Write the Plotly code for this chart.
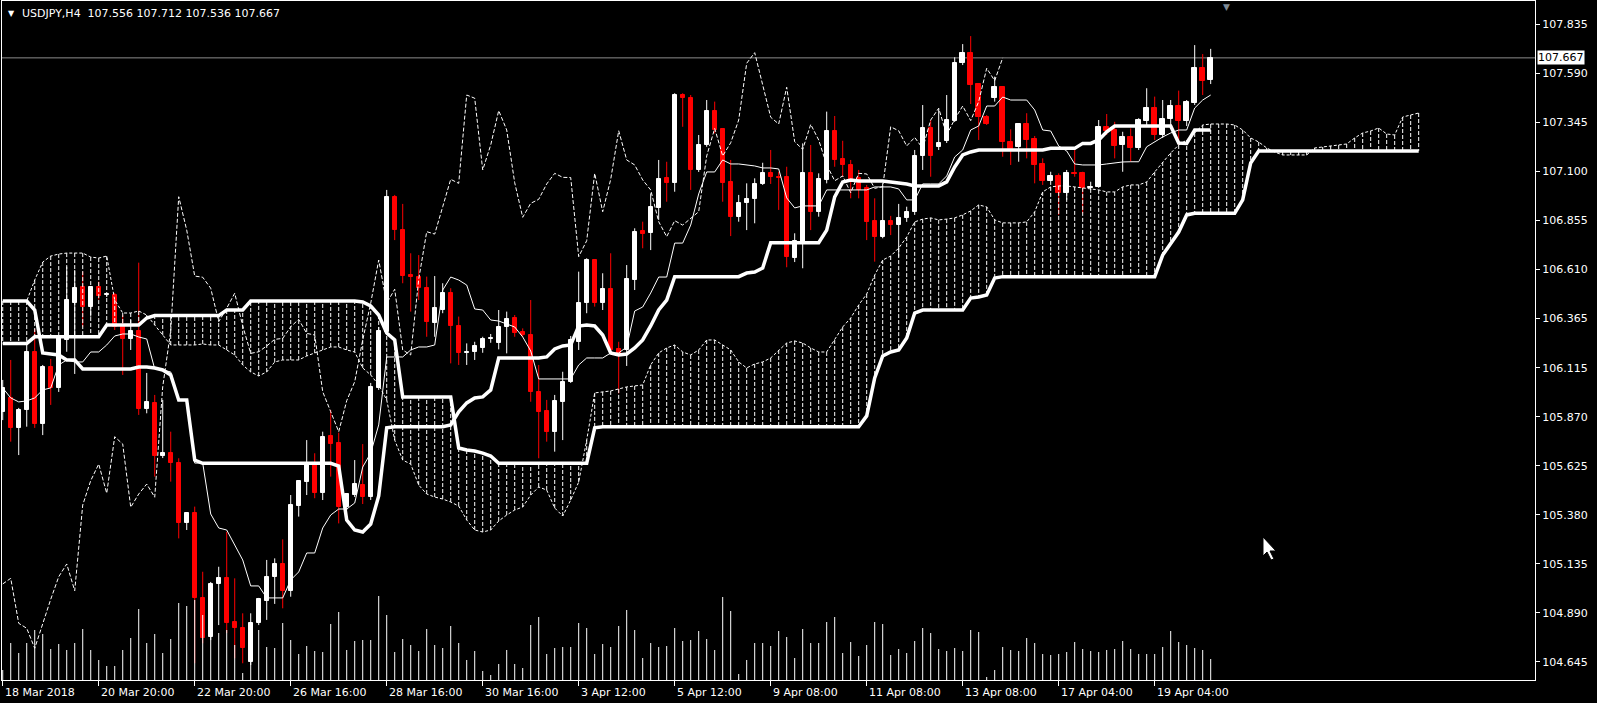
import numpy as np
import plotly.graph_objects as go

symbol = "USDJPY,H4"

opens = [
105.895, 105.963, 105.816, 105.905, 106.196, 105.835, 106.121, 106.015, 106.255, 106.442,
106.519, 106.419, 106.522, 106.480, 106.480, 106.325, 106.258, 106.301, 105.908, 105.941,
105.674, 105.688, 105.638, 105.337, 105.388, 104.962, 104.770, 105.034, 105.062, 104.842,
104.812, 104.645, 104.840, 104.950, 105.070, 105.134, 105.000, 105.424, 105.546, 105.634,
105.488, 105.774, 105.741, 105.418, 105.479, 105.529, 105.468, 106.013, 106.296, 106.972,
106.805, 106.580, 106.572, 106.514, 106.342, 106.405, 106.489, 106.326, 106.192, 106.196,
106.213, 106.261, 106.238, 106.318, 106.364, 106.296, 106.280, 105.996, 105.901, 105.796,
105.946, 106.046, 106.246, 106.439, 106.655, 106.442, 106.509, 106.208, 106.205, 106.555,
106.800, 106.789, 106.914, 107.064, 107.042, 107.481, 107.465, 107.106, 107.231, 107.403,
107.309, 107.047, 106.872, 106.942, 106.959, 107.036, 107.089, 107.072, 107.072, 106.664,
106.747, 107.089, 106.897, 107.056, 107.302, 107.159, 107.131, 107.064, 107.014, 106.852,
106.772, 106.852, 106.830, 106.864, 106.897, 107.176, 107.314, 107.219, 107.251, 107.353,
107.640, 107.690, 107.536, 107.370, 107.465, 107.520, 107.247, 107.219, 107.334, 107.259,
107.136, 107.052, 107.076, 106.992, 107.092, 107.089, 107.018, 107.022, 107.322, 107.306,
107.231, 107.269, 107.214, 107.353, 107.415, 107.281, 107.360, 107.426, 107.353, 107.440,
107.615, 107.556]

highs = [
106.055, 106.155, 105.915, 106.230, 106.310, 106.130, 106.160, 106.280, 106.622, 106.605,
106.597, 106.520, 106.547, 106.490, 106.490, 106.380, 106.355, 106.642, 106.090, 105.980,
105.955, 105.796, 105.663, 105.389, 105.421, 105.095, 105.044, 105.120, 105.295, 105.062,
104.887, 104.887, 104.964, 105.154, 105.162, 105.257, 105.479, 105.554, 105.754, 105.688,
105.796, 105.905, 105.791, 105.489, 105.654, 105.734, 106.040, 106.320, 107.006, 106.981,
106.936, 106.689, 106.680, 106.572, 106.575, 106.539, 106.514, 106.372, 106.238, 106.246,
106.271, 106.285, 106.405, 106.397, 106.380, 106.313, 106.455, 106.130, 105.955, 105.980,
106.096, 106.275, 106.597, 106.664, 106.659, 106.589, 106.689, 106.246, 106.630, 106.814,
106.847, 106.989, 107.156, 107.147, 107.490, 107.490, 107.481, 107.281, 107.456, 107.448,
107.316, 107.156, 106.981, 107.039, 107.064, 107.142, 107.206, 107.097, 107.122, 106.789,
107.239, 107.231, 107.089, 107.398, 107.376, 107.252, 107.156, 107.106, 107.031, 106.964,
107.039, 106.876, 106.936, 106.922, 107.206, 107.431, 107.356, 107.410, 107.481, 107.670,
107.736, 107.776, 107.540, 107.381, 107.573, 107.523, 107.309, 107.340, 107.390, 107.276,
107.164, 107.097, 107.089, 107.106, 107.206, 107.097, 107.047, 107.356, 107.386, 107.347,
107.297, 107.314, 107.365, 107.515, 107.473, 107.456, 107.456, 107.503, 107.456, 107.731,
107.686, 107.712]

lows = [
105.854, 105.746, 105.679, 105.821, 105.815, 105.779, 105.930, 105.995, 106.196, 106.085,
106.321, 106.372, 106.457, 106.470, 106.305, 106.080, 106.205, 105.880, 105.888, 105.571,
105.664, 105.546, 105.262, 105.304, 104.637, 104.737, 104.753, 104.828, 104.788, 104.662,
104.637, 104.628, 104.828, 104.854, 104.934, 104.912, 104.970, 105.371, 105.479, 105.463,
105.454, 105.571, 105.337, 105.404, 105.469, 105.434, 105.454, 106.005, 106.280, 106.755,
106.539, 106.397, 106.455, 106.271, 106.271, 106.389, 106.138, 106.130, 106.130, 106.155,
106.191, 106.241, 106.208, 106.188, 106.271, 106.271, 105.946, 105.663, 105.746, 105.696,
105.754, 106.040, 106.205, 106.389, 106.422, 106.405, 106.188, 105.988, 106.125, 106.505,
106.714, 106.705, 106.856, 106.947, 106.997, 107.322, 107.006, 107.096, 107.222, 107.289,
106.947, 106.775, 106.847, 106.805, 106.839, 107.031, 107.036, 106.906, 106.619, 106.645,
106.614, 106.805, 106.872, 107.039, 107.122, 107.072, 106.964, 106.964, 106.755, 106.647,
106.764, 106.780, 106.672, 106.846, 106.881, 107.106, 107.072, 107.206, 107.241, 107.346,
107.631, 107.436, 107.256, 107.331, 107.448, 107.172, 107.131, 107.147, 107.164, 107.039,
107.031, 107.031, 106.881, 106.956, 107.072, 106.889, 107.006, 107.016, 107.281, 107.164,
107.097, 107.147, 107.206, 107.331, 107.256, 107.266, 107.331, 107.231, 107.326, 107.431,
107.481, 107.536]

closes = [
106.015, 105.816, 105.905, 106.196, 105.835, 106.121, 106.013, 106.265, 106.457, 106.514,
106.419, 106.519, 106.475, 106.483, 106.321, 106.258, 106.301, 105.908, 105.946, 105.674,
105.691, 105.638, 105.337, 105.388, 104.962, 104.762, 105.034, 105.062, 104.837, 104.812,
104.712, 104.840, 104.957, 105.070, 105.134, 105.000, 105.429, 105.551, 105.634, 105.488,
105.771, 105.734, 105.418, 105.484, 105.534, 105.468, 106.021, 106.301, 106.972, 106.805,
106.575, 106.569, 106.514, 106.347, 106.414, 106.489, 106.326, 106.188, 106.196, 106.225,
106.258, 106.263, 106.321, 106.358, 106.288, 106.280, 105.996, 105.896, 105.796, 105.951,
106.046, 106.255, 106.439, 106.655, 106.439, 106.509, 106.205, 106.180, 106.559, 106.797,
106.785, 106.922, 107.059, 107.039, 107.481, 107.465, 107.106, 107.231, 107.403, 107.306,
107.042, 106.869, 106.939, 106.959, 107.036, 107.089, 107.069, 107.068, 106.672, 106.752,
107.089, 106.897, 107.059, 107.302, 107.156, 107.131, 107.056, 107.006, 106.847, 106.772,
106.852, 106.830, 106.864, 106.897, 107.176, 107.314, 107.176, 107.242, 107.356, 107.640,
107.693, 107.531, 107.370, 107.336, 107.520, 107.247, 107.209, 107.334, 107.256, 107.131,
107.052, 107.076, 106.992, 107.089, 107.086, 107.014, 107.022, 107.322, 107.302, 107.226,
107.269, 107.214, 107.356, 107.415, 107.281, 107.360, 107.426, 107.353, 107.448, 107.615,
107.553, 107.667]

volumes = [
1000, 3700, 2700, 3700, 5000, 4600, 3100, 3600, 3000, 3700,
5100, 3000, 2000, 1400, 1400, 3000, 4200, 7100, 3700, 4600,
2700, 4100, 7700, 7400, 8000, 6500, 5500, 4700, 5000, 3500,
700, 2000, 5000, 3300, 3200, 5700, 4000, 2600, 3400, 2900,
2800, 5600, 6800, 3000, 3900, 4000, 4000, 8400, 6500, 2800,
4100, 3500, 2900, 5100, 3500, 3200, 5400, 3700, 2000, 2900,
900, 500, 1600, 3000, 1600, 1200, 5500, 6300, 2600, 3200,
3300, 3300, 5700, 5200, 2600, 3600, 3300, 5400, 7000, 5000,
2200, 3700, 3300, 3400, 5200, 3900, 4000, 4900, 4100, 3000,
8300, 6900, 600, 2000, 3700, 3700, 3400, 4900, 4300, 2200,
5100, 3700, 3700, 5800, 6300, 2700, 3800, 2400, 3500, 5800,
5600, 2500, 3100, 2700, 3900, 5200, 4700, 3100, 2900, 3200,
2900, 5000, 4800, 300, 1000, 3300, 3000, 2900, 4200, 3700,
2600, 2500, 2600, 2800, 3800, 3100, 2900, 2800, 3000, 3100,
3900, 3100, 2600, 2600, 2600, 3300, 4900, 3800, 3500, 3200,
3000, 2100]

tenkan = [
106.015, 105.965, 105.945, 105.950, 105.965, 106.005, 106.015, 106.130, 106.155, 106.145,
106.145, 106.195, 106.195, 106.230, 106.275, 106.285, 106.285, 106.270, 106.260, 106.110,
106.105, 106.095, 105.955, 105.955, 105.639, 105.639, 105.384, 105.314, 105.304, 105.229,
105.154, 105.024, 105.024, 104.964, 104.964, 104.964, 105.054, 105.094, 105.189, 105.189,
105.314, 105.379, 105.409, 105.409, 105.439, 105.619, 105.689, 105.830, 106.170, 106.170,
106.170, 106.205, 106.220, 106.220, 106.230, 106.505, 106.570, 106.555, 106.530, 106.410,
106.405, 106.355, 106.350, 106.335, 106.320, 106.270, 106.200, 106.060, 106.060, 106.060,
106.060, 106.060, 106.130, 106.165, 106.165, 106.165, 106.190, 106.190, 106.220, 106.400,
106.420, 106.490, 106.570, 106.570, 106.740, 106.740, 106.830, 106.986, 107.096, 107.096,
107.156, 107.136, 107.136, 107.131, 107.126, 107.116, 107.116, 107.111, 106.966, 106.916,
106.926, 106.926, 106.926, 107.006, 107.006, 107.006, 107.006, 107.006, 107.006, 107.021,
107.021, 107.021, 107.011, 106.956, 106.956, 107.036, 107.036, 107.036, 107.076, 107.171,
107.206, 107.306, 107.326, 107.426, 107.426, 107.471, 107.456, 107.456, 107.456, 107.406,
107.306, 107.301, 107.226, 107.201, 107.136, 107.131, 107.131, 107.131, 107.136, 107.141,
107.146, 107.147, 107.147, 107.222, 107.247, 107.271, 107.291, 107.306, 107.306, 107.416,
107.456, 107.481]

kijun = [
106.450, 106.450, 106.450, 106.450, 106.405, 106.190, 106.185, 106.180, 106.155, 106.155,
106.110, 106.110, 106.110, 106.110, 106.110, 106.110, 106.110, 106.120, 106.120, 106.115,
106.105, 106.080, 105.955, 105.955, 105.654, 105.638, 105.638, 105.638, 105.638, 105.638,
105.638, 105.638, 105.638, 105.638, 105.638, 105.638, 105.638, 105.638, 105.638, 105.638,
105.638, 105.638, 105.624, 105.354, 105.304, 105.294, 105.334, 105.474, 105.815, 105.821,
105.821, 105.821, 105.821, 105.821, 105.821, 105.821, 105.830, 105.895, 105.940, 105.965,
105.970, 106.005, 106.165, 106.165, 106.165, 106.165, 106.165, 106.165, 106.170, 106.210,
106.225, 106.230, 106.325, 106.330, 106.325, 106.280, 106.190, 106.180, 106.185, 106.215,
106.255, 106.325, 106.405, 106.455, 106.572, 106.572, 106.572, 106.572, 106.572, 106.572,
106.572, 106.572, 106.572, 106.590, 106.595, 106.615, 106.742, 106.742, 106.742, 106.742,
106.742, 106.742, 106.742, 106.805, 106.971, 107.046, 107.056, 107.051, 107.051, 107.051,
107.051, 107.046, 107.041, 107.036, 107.026, 107.026, 107.026, 107.026, 107.046, 107.121,
107.181, 107.196, 107.206, 107.206, 107.206, 107.206, 107.206, 107.206, 107.206, 107.206,
107.206, 107.214, 107.214, 107.214, 107.214, 107.239, 107.239, 107.256, 107.297, 107.326,
107.326, 107.326, 107.326, 107.326, 107.326, 107.326, 107.326, 107.241, 107.239, 107.306,
107.306, 107.306]

senkou_a = [
106.450, 106.450, 106.450, 106.450, 106.555, 106.645, 106.675, 106.685, 106.690, 106.690,
106.690, 106.670, 106.665, 106.675, 106.455, 106.390, 106.390, 106.400, 106.380, 106.330,
106.280, 106.230, 106.230, 106.230, 106.230, 106.235, 106.230, 106.230, 106.205, 106.180,
106.130, 106.095, 106.075, 106.095, 106.145, 106.155, 106.155, 106.155, 106.175, 106.190,
106.205, 106.220, 106.220, 106.205, 106.195, 106.115, 106.080, 106.030, 105.955, 105.754,
105.654, 105.634, 105.529, 105.484, 105.469, 105.459, 105.444, 105.424, 105.354, 105.304,
105.294, 105.304, 105.349, 105.379, 105.404, 105.419, 105.479, 105.519, 105.504, 105.414,
105.374, 105.454, 105.544, 105.754, 105.990, 105.995, 106.000, 106.010, 106.020, 106.025,
106.030, 106.130, 106.190, 106.215, 106.230, 106.195, 106.180, 106.205, 106.255, 106.255,
106.230, 106.205, 106.145, 106.115, 106.135, 106.145, 106.165, 106.205, 106.240, 106.250,
106.240, 106.215, 106.195, 106.195, 106.255, 106.320, 106.365, 106.430, 106.485, 106.580,
106.655, 106.675, 106.715, 106.770, 106.846, 106.860, 106.866, 106.856, 106.860, 106.866,
106.881, 106.901, 106.931, 106.921, 106.856, 106.841, 106.841, 106.841, 106.846, 106.896,
106.996, 107.021, 107.026, 107.026, 107.021, 107.016, 107.011, 107.006, 106.996, 106.996,
107.021, 107.031, 107.031, 107.046, 107.096, 107.146, 107.191, 107.231, 107.256, 107.291,
107.331, 107.336, 107.336, 107.336, 107.331, 107.306, 107.266, 107.246, 107.216, 107.196,
107.181, 107.181, 107.181, 107.181, 107.216, 107.221, 107.226, 107.231, 107.236, 107.266,
107.291, 107.301, 107.316, 107.286, 107.281, 107.371, 107.381, 107.391]

senkou_b = [
106.238, 106.238, 106.238, 106.238, 106.271, 106.271, 106.271, 106.271, 106.271, 106.271,
106.271, 106.271, 106.271, 106.330, 106.330, 106.330, 106.330, 106.330, 106.365, 106.377,
106.377, 106.377, 106.377, 106.377, 106.377, 106.377, 106.377, 106.377, 106.405, 106.405,
106.405, 106.450, 106.450, 106.450, 106.450, 106.450, 106.450, 106.450, 106.450, 106.450,
106.450, 106.450, 106.450, 106.450, 106.450, 106.445, 106.425, 106.380, 106.290, 106.255,
105.970, 105.970, 105.970, 105.970, 105.970, 105.970, 105.970, 105.714, 105.704, 105.699,
105.689, 105.674, 105.638, 105.638, 105.638, 105.638, 105.638, 105.638, 105.638, 105.638,
105.638, 105.638, 105.638, 105.638, 105.815, 105.821, 105.821, 105.821, 105.821, 105.821,
105.821, 105.821, 105.821, 105.821, 105.821, 105.821, 105.821, 105.821, 105.821, 105.821,
105.821, 105.821, 105.821, 105.821, 105.821, 105.821, 105.821, 105.821, 105.821, 105.821,
105.821, 105.821, 105.821, 105.821, 105.821, 105.821, 105.821, 105.821, 105.875, 106.065,
106.175, 106.195, 106.205, 106.265, 106.390, 106.405, 106.405, 106.405, 106.405, 106.405,
106.405, 106.465, 106.470, 106.480, 106.565, 106.572, 106.572, 106.572, 106.572, 106.572,
106.572, 106.572, 106.572, 106.572, 106.572, 106.572, 106.572, 106.572, 106.572, 106.572,
106.572, 106.572, 106.572, 106.572, 106.572, 106.680, 106.740, 106.795, 106.881, 106.889,
106.889, 106.889, 106.889, 106.889, 106.889, 106.956, 107.141, 107.201, 107.201, 107.201,
107.201, 107.201, 107.201, 107.201, 107.201, 107.201, 107.201, 107.201, 107.201, 107.201,
107.201, 107.201, 107.201, 107.201, 107.201, 107.201, 107.201, 107.201]

x_tick_pos = [0, 12, 24, 36, 48, 60, 72, 84, 96, 108, 120, 132, 144]
x_tick_labels = ["18 Mar 2018", "20 Mar 20:00", "22 Mar 20:00", "26 Mar 16:00",
                 "28 Mar 16:00", "30 Mar 16:00", "3 Apr 12:00", "5 Apr 12:00",
                 "9 Apr 08:00", "11 Apr 08:00", "13 Apr 08:00", "17 Apr 04:00",
                 "19 Apr 04:00"]
y_ticks = [107.835, 107.590, 107.345, 107.100, 106.855, 106.610, 106.365,
           106.115, 105.870, 105.625, 105.380, 105.135, 104.890, 104.645]

SHIFT = 26
RED = "#ff0000"
FONT = "DejaVu Sans"

o = np.array(opens); h = np.array(highs); l = np.array(lows); c = np.array(closes)
v = np.array(volumes)
n = len(o)
idx = np.arange(n)
idx_fwd = np.arange(len(senkou_a))
up = c >= o


def segs(xs, a, b):
    X, Y = [], []
    for x, p, q in zip(xs, a, b):
        X += [float(x), float(x), None]
        Y += [float(p), float(q), None]
    return X, Y


fig = go.Figure()

# volumes (thin lines at the bottom)
vx, vy = segs(idx, np.zeros(n), v)
fig.add_trace(go.Scatter(x=vx, y=vy, mode="lines", yaxis="y2",
                         line=dict(color="white", width=1), hoverinfo="skip"))

# wicks
for mask, col in ((up, "white"), (~up, RED)):
    wx, wy = segs(idx[mask], l[mask], h[mask])
    fig.add_trace(go.Scatter(x=wx, y=wy, mode="lines",
                             line=dict(color=col, width=1), hoverinfo="skip"))

# bodies
body_lo = np.minimum(o, c)
body_h = np.maximum(np.abs(c - o), 0.0008)
for mask, col in ((up, "white"), (~up, RED)):
    fig.add_trace(go.Bar(x=idx[mask], y=body_h[mask], base=body_lo[mask], width=0.55,
                         marker=dict(color=col, line=dict(color=col, width=1)),
                         hoverinfo="skip"))

# cloud hatch
hx, hy = segs(idx_fwd, senkou_a, senkou_b)
fig.add_trace(go.Scatter(x=hx, y=hy, mode="lines",
                         line=dict(color="white", width=1, dash="4px,2px"), hoverinfo="skip"))
# senkou span A (dotted)
fig.add_trace(go.Scatter(x=idx_fwd, y=senkou_a, mode="lines",
                         line=dict(color="white", width=1, dash="3px,2px"), hoverinfo="skip"))
# senkou span B (thick)
fig.add_trace(go.Scatter(x=idx_fwd, y=senkou_b, mode="lines",
                         line=dict(color="white", width=3.5), hoverinfo="skip"))
# kijun (thick)
fig.add_trace(go.Scatter(x=idx, y=kijun, mode="lines",
                         line=dict(color="white", width=3.5), hoverinfo="skip"))
# tenkan (thin)
fig.add_trace(go.Scatter(x=idx, y=tenkan, mode="lines",
                         line=dict(color="white", width=1), hoverinfo="skip"))
# chikou (close shifted back)
fig.add_trace(go.Scatter(x=idx[SHIFT:] - SHIFT, y=c[SHIFT:], mode="lines",
                         line=dict(color="white", width=1, dash="4px,2px"), hoverinfo="skip"))

annotations = []
for pos, lab in zip(x_tick_pos, x_tick_labels):
    annotations.append(dict(x=pos, y=0, xref="x", yref="paper", text=lab,
                            showarrow=False, xanchor="left", yanchor="middle",
                            xshift=0, yshift=-12,
                            font=dict(family=FONT, size=11, color="white")))

hdr = (f"{symbol}\u00a0\u00a0{o[-1]:.3f} {h[-1]:.3f} {l[-1]:.3f} {c[-1]:.3f}")
annotations.append(dict(x=0, y=1, xref="paper", yref="paper", text=hdr,
                        showarrow=False, xanchor="left", yanchor="middle",
                        xshift=18, yshift=-12,
                        font=dict(family=FONT, size=11, color="white")))
annotations.append(dict(x=0, y=1, xref="paper", yref="paper", text="\u25bc",
                        showarrow=False, xanchor="left", yanchor="middle",
                        xshift=4, yshift=-12,
                        font=dict(family=FONT, size=8, color="white")))
# current price label on the axis
annotations.append(dict(x=1, y=c[-1], xref="paper", yref="y", text=f"{c[-1]:.3f}",
                        showarrow=False, xanchor="left", yanchor="middle", xshift=2,
                        bgcolor="white", borderpad=0,
                        font=dict(family=FONT, size=11, color="black")))
# chart shift marker
annotations.append(dict(x=n + 1, y=1, xref="x", yref="paper", text="\u25bc",
                        showarrow=False, xanchor="center", yanchor="top", yshift=1,
                        font=dict(family=FONT, size=9, color="#7f8a96")))

# mouse cursor of the screenshot (decoration, paper coords)
W, H = 1533.0, 679.0
def px(xp, yp):
    return (xp - 2) / W, 1 - (yp - 1) / H
cur = [(1263, 537), (1263, 556), (1267, 552), (1271, 560), (1274, 559), (1270, 551), (1276, 551)]
path = "M " + " L ".join(f"{px(a, b)[0]:.5f},{px(a, b)[1]:.5f}" for a, b in cur) + " Z"

fig.update_layout(
    width=1597, height=703,
    margin=dict(l=2, r=62, t=1, b=23),
    paper_bgcolor="black", plot_bgcolor="black",
    showlegend=False, barmode="overlay", bargap=0,
    xaxis=dict(range=[-0.09, 191.54], showgrid=False, zeroline=False,
               showline=True, linecolor="white", linewidth=1, mirror=True,
               ticks="outside", ticklen=5, tickcolor="white", tickwidth=1,
               tickvals=x_tick_pos, showticklabels=False, fixedrange=True),
    yaxis=dict(range=[104.5532, 107.9516], side="right", showgrid=False, zeroline=False,
               showline=True, linecolor="white", linewidth=1, mirror=True,
               ticks="outside", ticklen=4, tickcolor="white",
               tickvals=y_ticks, ticktext=[f"{t:.3f}" for t in y_ticks],
               tickfont=dict(family=FONT, size=11, color="white")),
    yaxis2=dict(overlaying="y", anchor="x", range=[0, 67900], visible=False),
    annotations=annotations,
    shapes=[
        dict(type="line", xref="paper", yref="y", x0=0, x1=1, y0=c[-1], y1=c[-1],
             line=dict(color="#8c8c8c", width=1), layer="below"),
        dict(type="path", xref="paper", yref="paper", path=path,
             fillcolor="white", line=dict(color="black", width=1)),
    ],
)

fig.write_html("out.html", include_plotlyjs=True,
               config={"displayModeBar": False},
               post_script="document.body.style.margin='0px';document.body.style.overflow='hidden';")
